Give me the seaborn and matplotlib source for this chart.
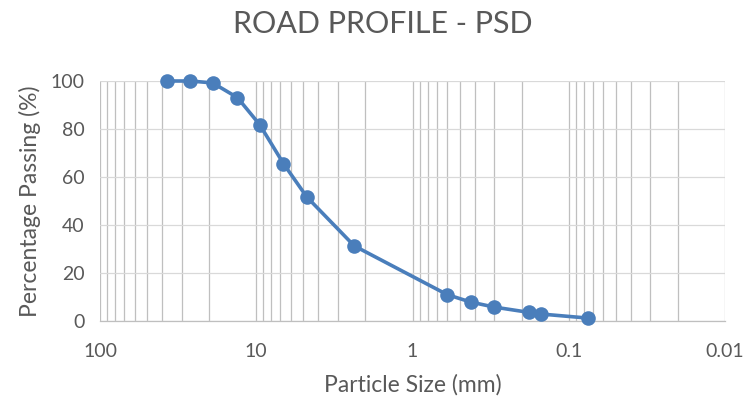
import matplotlib
matplotlib.use("Agg")
import matplotlib.pyplot as plt
from matplotlib.ticker import LogLocator, FixedLocator, FixedFormatter, NullFormatter
import seaborn as sns
import pandas as pd

# Data
particle_size_mm = [37.5, 26.5, 19.0, 13.2, 9.5, 6.7, 4.75, 2.36, 0.6, 0.425, 0.3, 0.18, 0.15, 0.075]
percent_passing = [100, 100, 99.2, 93.1, 81.8, 65.6, 51.7, 31.3, 11.0, 7.9, 5.8, 3.6, 2.9, 1.2]
x_tick_values = [100, 10, 1, 0.1, 0.01]
x_tick_labels = ["100", "10", "1", "0.1", "0.01"]
y_tick_values = [0, 20, 40, 60, 80, 100]

title = "ROAD PROFILE - PSD"
x_label = "Particle Size (mm)"
y_label = "Percentage Passing (%)"

df = pd.DataFrame({"size": particle_size_mm, "passing": percent_passing})

sns.set_theme(style="white")
plt.rcParams["font.family"] = ["Lato", "DejaVu Sans"]

text_color = "#595959"
line_color = "#4a7ebb"

fig = plt.figure(figsize=(7.5, 4.07), dpi=100)
ax = fig.add_axes([100 / 750, 1 - 321 / 407, 625 / 750, 240 / 407])

sns.lineplot(data=df, x="size", y="passing", ax=ax, color=line_color,
             linewidth=2.6, marker="o", markersize=10.5, markeredgewidth=0,
             clip_on=False, zorder=5)

ax.set_xscale("log")
ax.set_xlim(100, 0.01)
ax.set_ylim(0, 100)

ax.xaxis.set_major_locator(FixedLocator(x_tick_values))
ax.xaxis.set_major_formatter(FixedFormatter(x_tick_labels))
ax.xaxis.set_minor_locator(LogLocator(base=10, subs=range(2, 10), numticks=20))
ax.xaxis.set_minor_formatter(NullFormatter())
ax.set_yticks(y_tick_values)

ax.grid(True, which="major", axis="x", color="#bfbfbf", linewidth=0.9)
ax.grid(True, which="minor", axis="x", color="#bfbfbf", linewidth=0.9)
ax.grid(True, which="major", axis="y", color="#d9d9d9", linewidth=0.9)
ax.set_axisbelow(True)

for s in ["top", "right", "left"]:
    ax.spines[s].set_visible(False)
ax.spines["bottom"].set_color("#bfbfbf")
ax.spines["bottom"].set_linewidth(0.9)

ax.tick_params(axis="both", which="both", length=0, labelsize=14, colors=text_color)
ax.tick_params(axis="x", pad=16)
ax.tick_params(axis="y", pad=11)

ax.set_xlabel(x_label, fontsize=16.5, color=text_color, labelpad=10)
ax.set_ylabel(y_label, fontsize=16.5, color=text_color, labelpad=7)

fig.text(0.510, 1 - 24 / 407, title, ha="center", va="center", fontsize=22, color=text_color)

fig.savefig("out.png", dpi=100)
